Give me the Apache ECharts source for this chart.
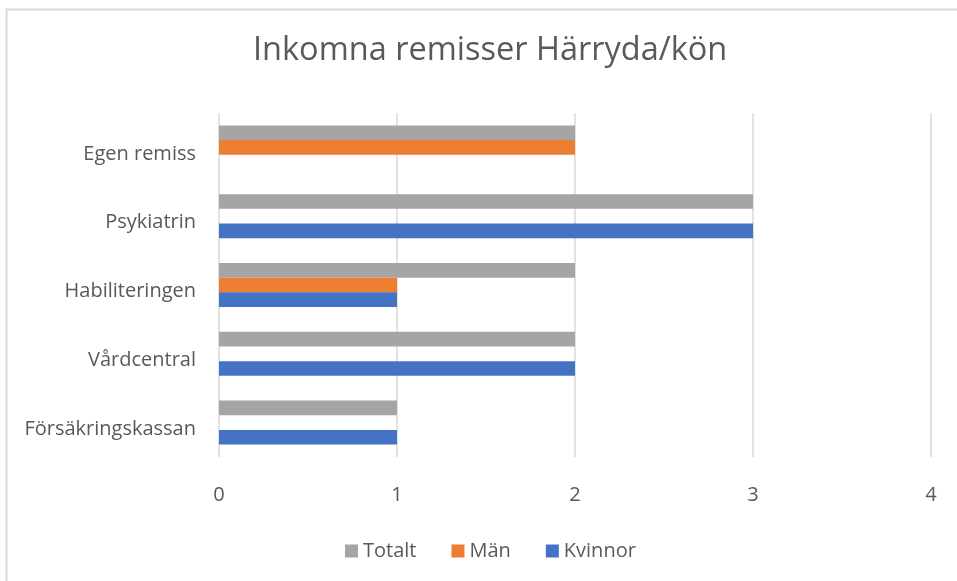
<!DOCTYPE html>
<html>
<head>
<meta charset="utf-8">
<title>Inkomna remisser Härryda/kön</title>
<script src="https://cdn.jsdelivr.net/npm/echarts@6/dist/echarts.min.js"></script>
<style>
  html, body { margin: 0; padding: 0; background: #fff; }
  #main { width: 957px; height: 581px; }
</style>
</head>
<body>
<div id="main"></div>
<script>
// kategorier nerifrån och upp (som i Excel)
var categories = ['Försäkringskassan', 'Vårdcentral', 'Habiliteringen', 'Psykiatrin', 'Egen remiss'];
var kvinnor = [1, 2, 1, 3, null];
var man = [null, null, 1, null, 2];
var totalt = [1, 2, 2, 3, 2];
var xTicks = [0, 1, 2, 3, 4];

var textColor = '#595959';
var font = '"Open Sans", "Noto Sans", sans-serif';

var chart = echarts.init(document.getElementById('main'));

var option = {
    animation: false,
    textStyle: { fontFamily: font },
    graphic: [{
        type: 'rect',
        shape: { x: 6.5, y: 9.5, width: 1000, height: 1000 },
        style: { fill: 'none', stroke: '#d9d9d9', lineWidth: 2 },
        silent: true
    }],
    // rubrik och förklaring ligger lite höger om mitten i originalet
    title: {
        text: 'Inkomna remisser Härryda/kön',
        left: 248,
        top: 29,
        textStyle: { fontFamily: font, fontSize: 32.5, fontWeight: 'normal', color: textColor }
    },
    legend: {
        data: ['Totalt', 'Män', 'Kvinnor'],
        bottom: 15,
        left: 340,
        itemWidth: 13,
        itemHeight: 13,
        itemGap: 35,
        icon: 'rect',
        textStyle: { fontFamily: font, fontSize: 20, color: textColor }
    },
    grid: { left: 219, right: 26, top: 113, bottom: 124, containLabel: false },
    xAxis: {
        type: 'value',
        min: xTicks[0],
        max: xTicks[xTicks.length - 1],
        interval: 1,
        axisLine: { show: false },
        axisTick: { show: false },
        axisLabel: { color: textColor, fontSize: 20, margin: 28, fontFamily: font },
        splitLine: { lineStyle: { color: '#d9d9d9', width: 1.5 } }
    },
    yAxis: {
        type: 'category',
        data: categories,
        axisLine: { show: false },
        axisTick: { show: false },
        // etiketterna sitter lite under gruppens mitt, som i originalet
        axisLabel: { color: textColor, fontSize: 20, margin: 23, fontFamily: font, verticalAlign: 'top', lineHeight: 13 }
    },
    // Totalt överst i varje grupp, Kvinnor nederst
    series: [
        { name: 'Totalt', type: 'bar', data: totalt, itemStyle: { color: '#a5a5a5' }, barGap: '0%', barCategoryGap: '36%' },
        { name: 'Män', type: 'bar', data: man, itemStyle: { color: '#ed7d31' }, barGap: '0%', barCategoryGap: '36%' },
        { name: 'Kvinnor', type: 'bar', data: kvinnor, itemStyle: { color: '#4472c4' }, barGap: '0%', barCategoryGap: '36%' }
    ]
};

chart.setOption(option);
</script>
</body>
</html>
